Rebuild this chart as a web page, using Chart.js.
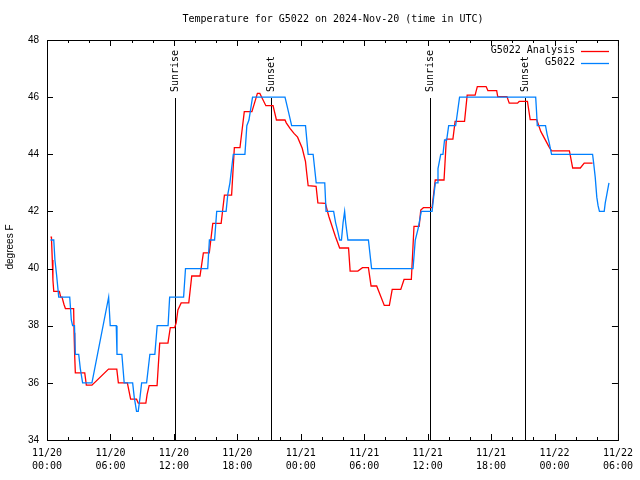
<!DOCTYPE html>
<html>
<head>
<meta charset="utf-8">
<title>Temperature for G5022</title>
<script src="https://cdn.jsdelivr.net/npm/chart.js@4.4.1/dist/chart.umd.min.js"></script>
<style>
  html, body { margin: 0; padding: 0; background: #fff; }
  #wrap { width: 640px; height: 480px; }
</style>
</head>
<body>
<div id="wrap"><canvas id="tempChart" width="640" height="480"></canvas></div>
<script>
// hours since 2024-11-20 00:00 UTC

// G5022 Analysis (red)
const analysisHours = [
  0.33, 0.42, 0.5, 0.56, 0.64, 1.17, 1.3, 1.42, 1.6, 1.74, 2.52, 2.56, 2.62, 2.68,
  3.57, 3.72, 4.25, 5.82, 6.6, 6.75, 7.6, 7.91, 8.47, 8.63, 9.35, 9.47, 9.66, 10.41,
  10.66, 11.44, 11.66, 12.07, 12.22, 12.38, 12.69, 13.41, 13.69, 14.47, 14.79, 15.35,
  15.68, 16.47, 16.78, 17.46, 17.72, 18.25, 18.66, 19.38, 19.9, 20.13, 20.7, 21.38,
  21.7, 22.51, 22.63, 23.0, 23.36, 23.7, 24.14, 24.45, 24.55, 24.7, 25.45, 25.62,
  26.33, 26.65, 27.27, 27.68, 28.52, 28.67, 29.4, 29.84, 30.4, 30.65, 31.18, 31.9,
  32.38, 32.65, 33.46, 33.77, 34.46, 34.71, 35.2, 35.35, 35.6, 36.42, 36.72, 37.55,
  37.77, 38.39, 38.6, 39.49, 39.74, 40.49, 40.7, 41.53, 41.7, 42.53, 42.63, 43.5,
  43.72, 44.5, 44.66, 45.44, 45.7, 46.32, 46.7, 47.47, 47.72, 49.41, 49.72, 50.44,
  50.81, 51.6
];
const analysisTemps = [
  41.1, 41.1, 40.3, 39.6, 39.2, 39.2, 39.0, 39.0, 38.75, 38.6, 38.6, 37.75, 36.95, 36.35,
  36.35, 35.92, 35.92, 36.48, 36.48, 36.0, 36.0, 35.43, 35.43, 35.29, 35.29, 35.6, 35.9, 35.9,
  37.39, 37.39, 37.93, 37.93, 38.1, 38.55, 38.8, 38.8, 39.74, 39.74, 40.55, 40.55,
  41.58, 41.58, 42.57, 42.57, 44.23, 44.23, 45.49, 45.49, 46.13, 46.13, 45.7, 45.7,
  45.2, 45.2, 45.1, 44.9, 44.73, 44.6, 44.21, 43.74, 43.39, 42.9, 42.88, 42.3,
  42.28, 41.83, 41.13, 40.72, 40.72, 39.91, 39.91, 40.03, 40.03, 39.39, 39.39, 38.71,
  38.71, 39.27, 39.27, 39.62, 39.62, 41.48, 41.48, 42.05, 42.13, 42.13, 43.1, 43.1,
  44.53, 44.53, 45.15, 45.15, 46.07, 46.07, 46.37, 46.37, 46.23, 46.23, 46.02, 46.02,
  45.79, 45.79, 45.85, 45.85, 45.21, 45.21, 44.8, 44.27, 44.12, 44.12, 43.52, 43.52,
  43.69, 43.69
];

// G5022 station (blue)
const stationHours = [
  0.33, 0.64, 0.75, 0.9, 1.11, 2.15, 2.3, 2.42, 2.6, 2.68, 3.0, 3.15, 3.37, 4.25,
  5.83, 5.98, 6.55, 6.62, 7.08, 7.3, 8.1, 8.25, 8.47, 8.63, 8.8, 8.95, 9.42, 9.73,
  10.2, 10.42, 11.45, 11.6, 12.92, 13.1, 15.2, 15.36, 15.85, 16.05, 16.94, 17.1, 17.3,
  17.62, 18.72, 18.9, 19.1, 19.44, 22.51, 22.7, 23.14, 24.45, 24.7, 25.17, 25.46,
  26.27, 26.39, 27.11, 27.3, 27.5, 27.68, 27.85, 28.0, 28.15, 28.25, 28.46, 30.4,
  30.7, 34.62, 34.83, 35.1, 35.4, 36.42, 36.6, 36.73, 36.9, 36.98, 37.24, 37.45,
  37.6, 37.8, 37.99, 38.65, 39.02, 46.22, 46.3, 46.37, 47.15, 47.3, 47.5, 47.72,
  51.6, 51.7, 51.85, 52.0, 52.12, 52.25, 52.7, 52.8, 52.95, 53.15
];
const stationTemps = [
  41, 41, 40.3, 39.8, 39, 39, 38.2, 38, 38, 37, 37, 36.5, 36, 36,
  39, 38, 38, 37, 37, 36, 36, 35.5, 35, 35, 35.5, 36, 36, 37,
  37, 38, 38, 39, 39, 40, 40, 41, 41, 42, 42, 42.6, 43,
  44, 44, 45, 45.2, 46, 46, 45.7, 45, 45, 44, 44, 43,
  43, 42, 42, 41.6, 41.3, 41, 41, 41.6, 42, 41.6, 41, 41,
  40, 40, 41, 41.4, 42, 42, 42.6, 43, 43, 43.5, 44, 44,
  44.5, 44.5, 45, 45, 46, 46, 45.5, 45, 45, 44.7, 44.4, 44,
  44, 43.7, 43.2, 42.5, 42.2, 42, 42, 42.3, 42.6, 43
];

const sunHours = [12.14, 21.22, 36.2, 45.25];
const sunLabels = ["Sunrise", "Sunset", "Sunrise", "Sunset"];

const xTickHours = [0, 6, 12, 18, 24, 30, 36, 42, 48, 54];
const xTickLabels = [
  ["11/20", "00:00"], ["11/20", "06:00"], ["11/20", "12:00"], ["11/20", "18:00"],
  ["11/21", "00:00"], ["11/21", "06:00"], ["11/21", "12:00"], ["11/21", "18:00"],
  ["11/22", "00:00"], ["11/22", "06:00"]
];
const yTickValues = [34, 36, 38, 40, 42, 44, 46, 48];

const monoFont = "'DejaVu Sans Mono', monospace";
const sansFont = "'Liberation Sans', Arial, sans-serif";

function toPoints(hours, temps) {
  return hours.map((h, i) => ({ x: h, y: temps[i] }));
}

// gnuplot style frame, ticks, sun markers, legend and titles
const gnuplotFrame = {
  id: "gnuplotFrame",
  beforeDatasetsDraw(chart) {
    const { ctx, chartArea: area, scales } = chart;
    ctx.save();
    ctx.strokeStyle = "#000";
    ctx.lineWidth = 1;
    ctx.fillStyle = "#000";
    ctx.font = "10px " + monoFont;
    sunHours.forEach((h, i) => {
      const x = Math.round(scales.x.getPixelForValue(h)) + 0.5;
      ctx.beginPath();
      ctx.moveTo(x, 98);
      ctx.lineTo(x, area.bottom);
      ctx.stroke();
      ctx.save();
      ctx.translate(x, 92);
      ctx.rotate(-Math.PI / 2);
      ctx.textAlign = "left";
      ctx.textBaseline = "middle";
      ctx.fillText(sunLabels[i], 0, 0);
      ctx.restore();
    });
    ctx.restore();
  },
  afterDraw(chart) {
    const { ctx, chartArea: area, scales } = chart;
    ctx.save();
    ctx.strokeStyle = "#000";
    ctx.lineWidth = 1;

    // border
    ctx.strokeRect(area.left + 0.5, area.top + 0.5, area.right - area.left, area.bottom - area.top);

    // ticks pointing inward
    ctx.beginPath();
    yTickValues.forEach((v) => {
      const y = Math.round(scales.y.getPixelForValue(v)) + 0.5;
      ctx.moveTo(area.left, y);
      ctx.lineTo(area.left + 6, y);
      ctx.moveTo(area.right, y);
      ctx.lineTo(area.right - 6, y);
    });
    for (let h = 0; h <= 54; h += 2) {
      const x = Math.round(scales.x.getPixelForValue(h)) + 0.5;
      const len = h % 6 === 0 ? 6 : 3;
      ctx.moveTo(x, area.bottom);
      ctx.lineTo(x, area.bottom - len);
      ctx.moveTo(x, area.top);
      ctx.lineTo(x, area.top + len);
    }
    ctx.stroke();

    // title
    ctx.fillStyle = "#000";
    ctx.font = "10px " + monoFont;
    ctx.textAlign = "center";
    ctx.textBaseline = "middle";
    ctx.fillText("Temperature for G5022 on 2024-Nov-20 (time in UTC)", 333, 19);

    // legend
    ctx.textAlign = "right";
    chart.data.datasets.forEach((ds, i) => {
      const y = 50.5 + i * 12;
      ctx.fillStyle = "#000";
      ctx.fillText(ds.label, 575, y);
      ctx.strokeStyle = ds.borderColor;
      ctx.lineWidth = 1.3;
      ctx.beginPath();
      ctx.moveTo(581, Math.round(y) + 0.5);
      ctx.lineTo(609, Math.round(y) + 0.5);
      ctx.stroke();
    });

    // y axis title
    ctx.save();
    ctx.fillStyle = "#000";
    ctx.font = "10px " + sansFont;
    ctx.translate(10, 247);
    ctx.rotate(-Math.PI / 2);
    ctx.textAlign = "center";
    ctx.textBaseline = "middle";
    ctx.fillText("degrees F", 0, 0);
    ctx.restore();

    ctx.restore();
  }
};

const ctx = document.getElementById("tempChart").getContext("2d");

const tempChart = new Chart(ctx, {
  type: "line",
  data: {
    datasets: [
      {
        label: "G5022 Analysis",
        data: toPoints(analysisHours, analysisTemps),
        borderColor: "#ff0000",
        borderWidth: 1.3,
        pointRadius: 0,
        tension: 0,
        fill: false,
        order: 1,
      },
      {
        label: "G5022",
        data: toPoints(stationHours, stationTemps),
        borderColor: "#0080ff",
        borderWidth: 1.3,
        pointRadius: 0,
        tension: 0,
        fill: false,
        order: 0,
      },
    ],
  },
  options: {
    responsive: false,
    animation: false,
    events: [],
    layout: { padding: { top: 40, right: 20, left: 0, bottom: 0 } },
    plugins: {
      legend: { display: false },
      tooltip: { enabled: false },
      title: { display: false },
    },
    scales: {
      x: {
        type: "linear",
        min: 0,
        max: 54,
        grid: { display: false, drawTicks: false },
        border: { display: false },
        afterBuildTicks: (scale) => {
          scale.ticks = xTickHours.map((v) => ({ value: v }));
        },
        afterFit: (scale) => {
          scale.height = 40;
        },
        ticks: {
          color: "#000",
          padding: 7,
          maxRotation: 0,
          autoSkip: false,
          font: { family: monoFont, size: 10, lineHeight: 1.27 },
          callback: (value, index) => xTickLabels[index],
        },
      },
      y: {
        type: "linear",
        min: 34,
        max: 48,
        grid: { display: false, drawTicks: false },
        border: { display: false },
        afterBuildTicks: (scale) => {
          scale.ticks = yTickValues.map((v) => ({ value: v }));
        },
        afterFit: (scale) => {
          scale.width = 47;
        },
        ticks: {
          color: "#000",
          padding: 8,
          font: { family: sansFont, size: 10 },
        },
      },
    },
  },
  plugins: [gnuplotFrame],
});
</script>
</body>
</html>
